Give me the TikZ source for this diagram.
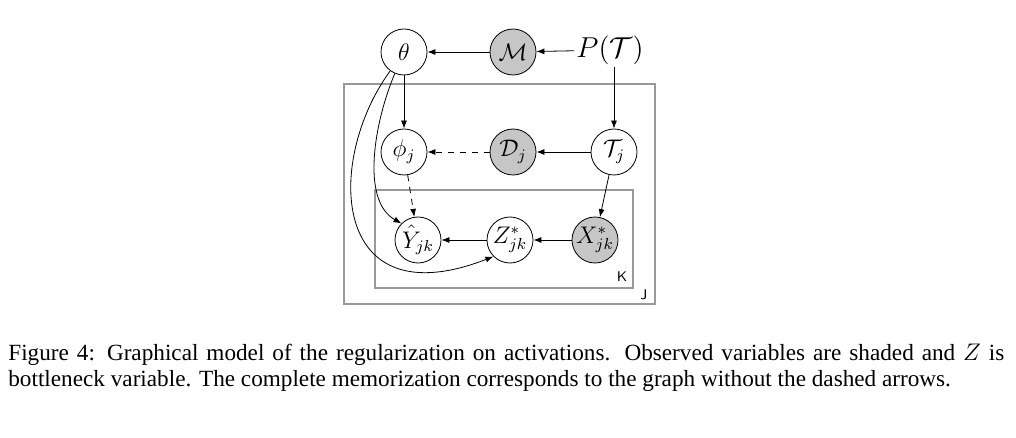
\documentclass[tikz,border=0pt]{standalone}
\usepackage{fontspec}
\setmainfont{Liberation Serif}
\usetikzlibrary{arrows.meta}
\begin{document}
\begin{tikzpicture}[x=0.5pt,y=-0.5pt,>={Latex[length=4pt,width=3pt]},
  latent/.style={draw,circle,minimum size=23pt,inner sep=0pt,font=\large},
  obs/.style={latent,fill=gray!45},
  plate/.style={draw=gray!80,line width=0.6pt}]
\useasboundingbox (0,0) rectangle (1016,438);
\node[latent] (theta) at (404,52) {$\theta$};
\node[obs] (M) at (513,52) {$\mathcal{M}$};
\node[inner sep=1pt,font=\Large] (PT) at (610,50) {$P(\mathcal{T})$};
\node[latent] (phi) at (404,152) {$\phi_j$};
\node[obs] (D) at (513,152) {$\mathcal{D}_j$};
\node[latent] (T) at (614,152) {$\mathcal{T}_j$};
\node[latent] (Y) at (418,240) {$\hat{Y}_{jk}$};
\node[latent] (Z) at (510,240) {$Z^*_{jk}$};
\node[obs] (X) at (595,240) {$X^*_{jk}$};

\draw[plate] (344,84) rectangle (655,304);
\draw[plate] (375,190) rectangle (633,288);
\node[font=\sffamily\scriptsize] (K) at (622,277) {K};
\node[font=\sffamily\scriptsize] (J) at (644,295) {J};

\draw[->] (M) -- (theta);
\draw[->] (PT) -- (M);
\draw[->] (PT.south -| T) -- (T);
\draw[->] (theta) -- (phi);
\draw[->] (T) -- (D);
\draw[->,dashed] (D) -- (phi);
\draw[->,dashed] (phi) -- (Y);
\draw[->] (T) -- (X);
\draw[->] (X) -- (Z);
\draw[->] (Z) -- (Y);
\draw[->] (theta) .. controls (375,120) and (360,200) .. (Y.north west);
\draw[->] (theta) .. controls (325,160) and (330,320) .. (Z.south west);

\node[anchor=north west,text width=498pt,align=justify,inner sep=0pt,
  font=\fontsize{11.6}{12.6}\selectfont] (cap) at (8,344)
  {\hyphenpenalty=10000 Figure 4: Graphical model of the regularization on activations. Observed variables are shaded and $Z$ is bottleneck variable. The complete memorization corresponds to the graph without the dashed arrows.};
\end{tikzpicture}
\end{document}
